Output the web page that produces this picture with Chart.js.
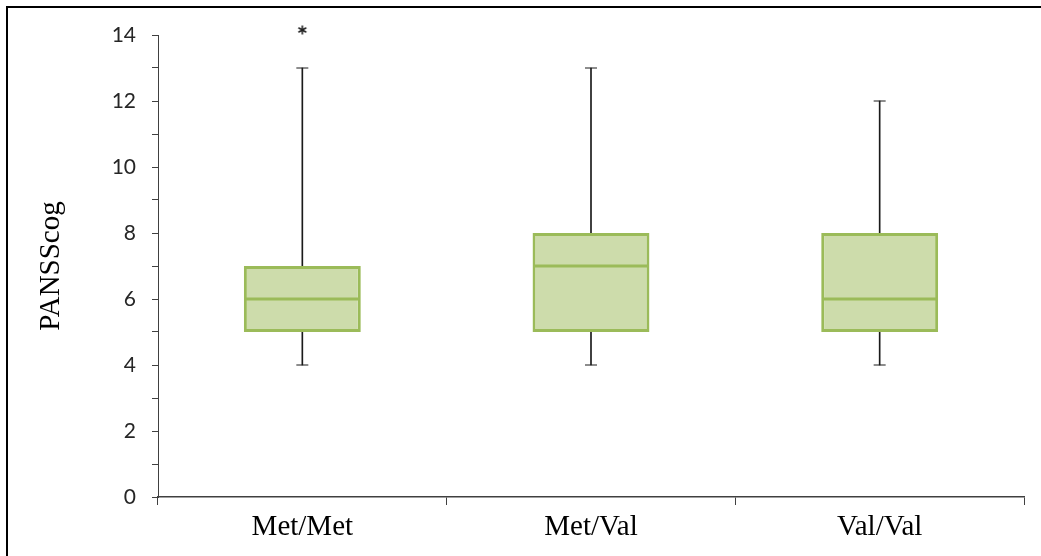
<!DOCTYPE html>
<html>
<head>
<meta charset="utf-8">
<script src="https://cdn.jsdelivr.net/npm/chart.js@4.4.1/dist/chart.umd.min.js"></script>
<style>
html, body { margin: 0; padding: 0; background: #fff; }
#wrap { position: relative; width: 1041px; height: 556px; overflow: hidden; }
#frame { position: absolute; left: 6px; top: 6px; width: 1100px; height: 600px; border-top: 2px solid #000; border-left: 2px solid #000; }
canvas { position: absolute; left: 0; top: 0; }
</style>
</head>
<body>
<div id="wrap"><div id="frame"></div><canvas id="myChart" width="1041" height="556"></canvas></div>
<script>
// box plot values
var categories = ['Met/Met', 'Met/Val', 'Val/Val'];
var minVals = [4, 4, 4];
var q1Vals = [5, 5, 5];
var medianVals = [6, 7, 6];
var q3Vals = [7, 8, 8];
var maxVals = [13, 13, 12];
var outlierVals = [14, null, null];

var boxes = [], upperWhisker = [], lowerWhisker = [];
for (let i = 0; i < categories.length; i++) {
    boxes.push([q1Vals[i], q3Vals[i]]);
    upperWhisker.push([q3Vals[i], maxVals[i]]);
    lowerWhisker.push([minVals[i], q1Vals[i]]);
}

// little asterisk used as the outlier marker
function makeAsterisk() {
    var c = document.createElement('canvas');
    c.width = 20; c.height = 20;
    var g = c.getContext('2d');
    g.strokeStyle = '#222';
    g.lineWidth = 1.6;
    var cx = 10, cy = 5, r = 4.5;
    for (let k = 0; k < 3; k++) {
        var a = Math.PI / 2 + k * Math.PI / 3;
        g.beginPath();
        g.moveTo(cx - r * Math.cos(a), cy - r * Math.sin(a));
        g.lineTo(cx + r * Math.cos(a), cy + r * Math.sin(a));
        g.stroke();
    }
    return c;
}

var axisColor = '#404040';
var ctx = document.getElementById('myChart');

var chart = new Chart(ctx, {
    type: 'bar',
    data: {
        labels: categories,
        datasets: [
            {
                label: 'upper whisker',
                data: upperWhisker,
                backgroundColor: '#1a1a1a',
                barThickness: 1,
                grouped: false,
                order: 3
            },
            {
                label: 'lower whisker',
                data: lowerWhisker,
                backgroundColor: '#1a1a1a',
                barThickness: 1,
                grouped: false,
                order: 3
            },
            {
                label: 'box',
                data: boxes,
                backgroundColor: '#CDDCAB',
                borderColor: '#9BBB59',
                borderWidth: 3,
                borderSkipped: false,
                barPercentage: 0.405,
                categoryPercentage: 1,
                grouped: false,
                order: 2
            },
            {
                type: 'line',
                label: 'median',
                data: medianVals,
                showLine: false,
                pointStyle: 'line',
                pointRadius: 57,
                pointBorderWidth: 3,
                pointBorderColor: '#9BBB59',
                order: 1
            },
            {
                type: 'line',
                label: 'max',
                data: maxVals,
                showLine: false,
                pointStyle: 'line',
                pointRadius: 6,
                pointBorderWidth: 1,
                pointBorderColor: '#1a1a1a',
                order: 1
            },
            {
                type: 'line',
                label: 'min',
                data: minVals,
                showLine: false,
                pointStyle: 'line',
                pointRadius: 6,
                pointBorderWidth: 1,
                pointBorderColor: '#1a1a1a',
                order: 1
            },
            {
                type: 'line',
                label: 'outlier',
                data: outlierVals,
                showLine: false,
                clip: false,
                pointRadius: 6,
                pointStyle: makeAsterisk(),
                order: 1
            }
        ]
    },
    options: {
        responsive: false,
        animation: false,
        layout: { autoPadding: false, padding: { top: 35, right: 17, bottom: 0, left: 0 } },
        plugins: {
            legend: { display: false },
            tooltip: { enabled: false }
        },
        scales: {
            x: {
                afterFit: function (s) { s.height = 59; },
                border: { color: axisColor, width: 1.5 },
                grid: { drawOnChartArea: false, offset: true, tickLength: 8, color: axisColor },
                ticks: {
                    padding: 5,
                    color: '#000',
                    font: { family: 'Liberation Serif', size: 29 }
                }
            },
            y: {
                min: 0,
                max: 14,
                afterFit: function (s) { s.width = 158; },
                border: { color: axisColor, width: 1 },
                grid: { drawOnChartArea: false, tickLength: 6, color: axisColor },
                ticks: {
                    stepSize: 1,
                    autoSkip: false,
                    padding: 16,
                    color: '#262626',
                    font: { family: 'Lato', size: 21 },
                    callback: function (v) { return v % 2 === 0 ? v : ''; }
                },
                title: {
                    display: true,
                    text: 'PANSScog',
                    color: '#000',
                    font: { family: 'Liberation Serif', size: 29 },
                    padding: { top: 34, bottom: 0 }
                }
            }
        }
    }
});
</script>
</body>
</html>
